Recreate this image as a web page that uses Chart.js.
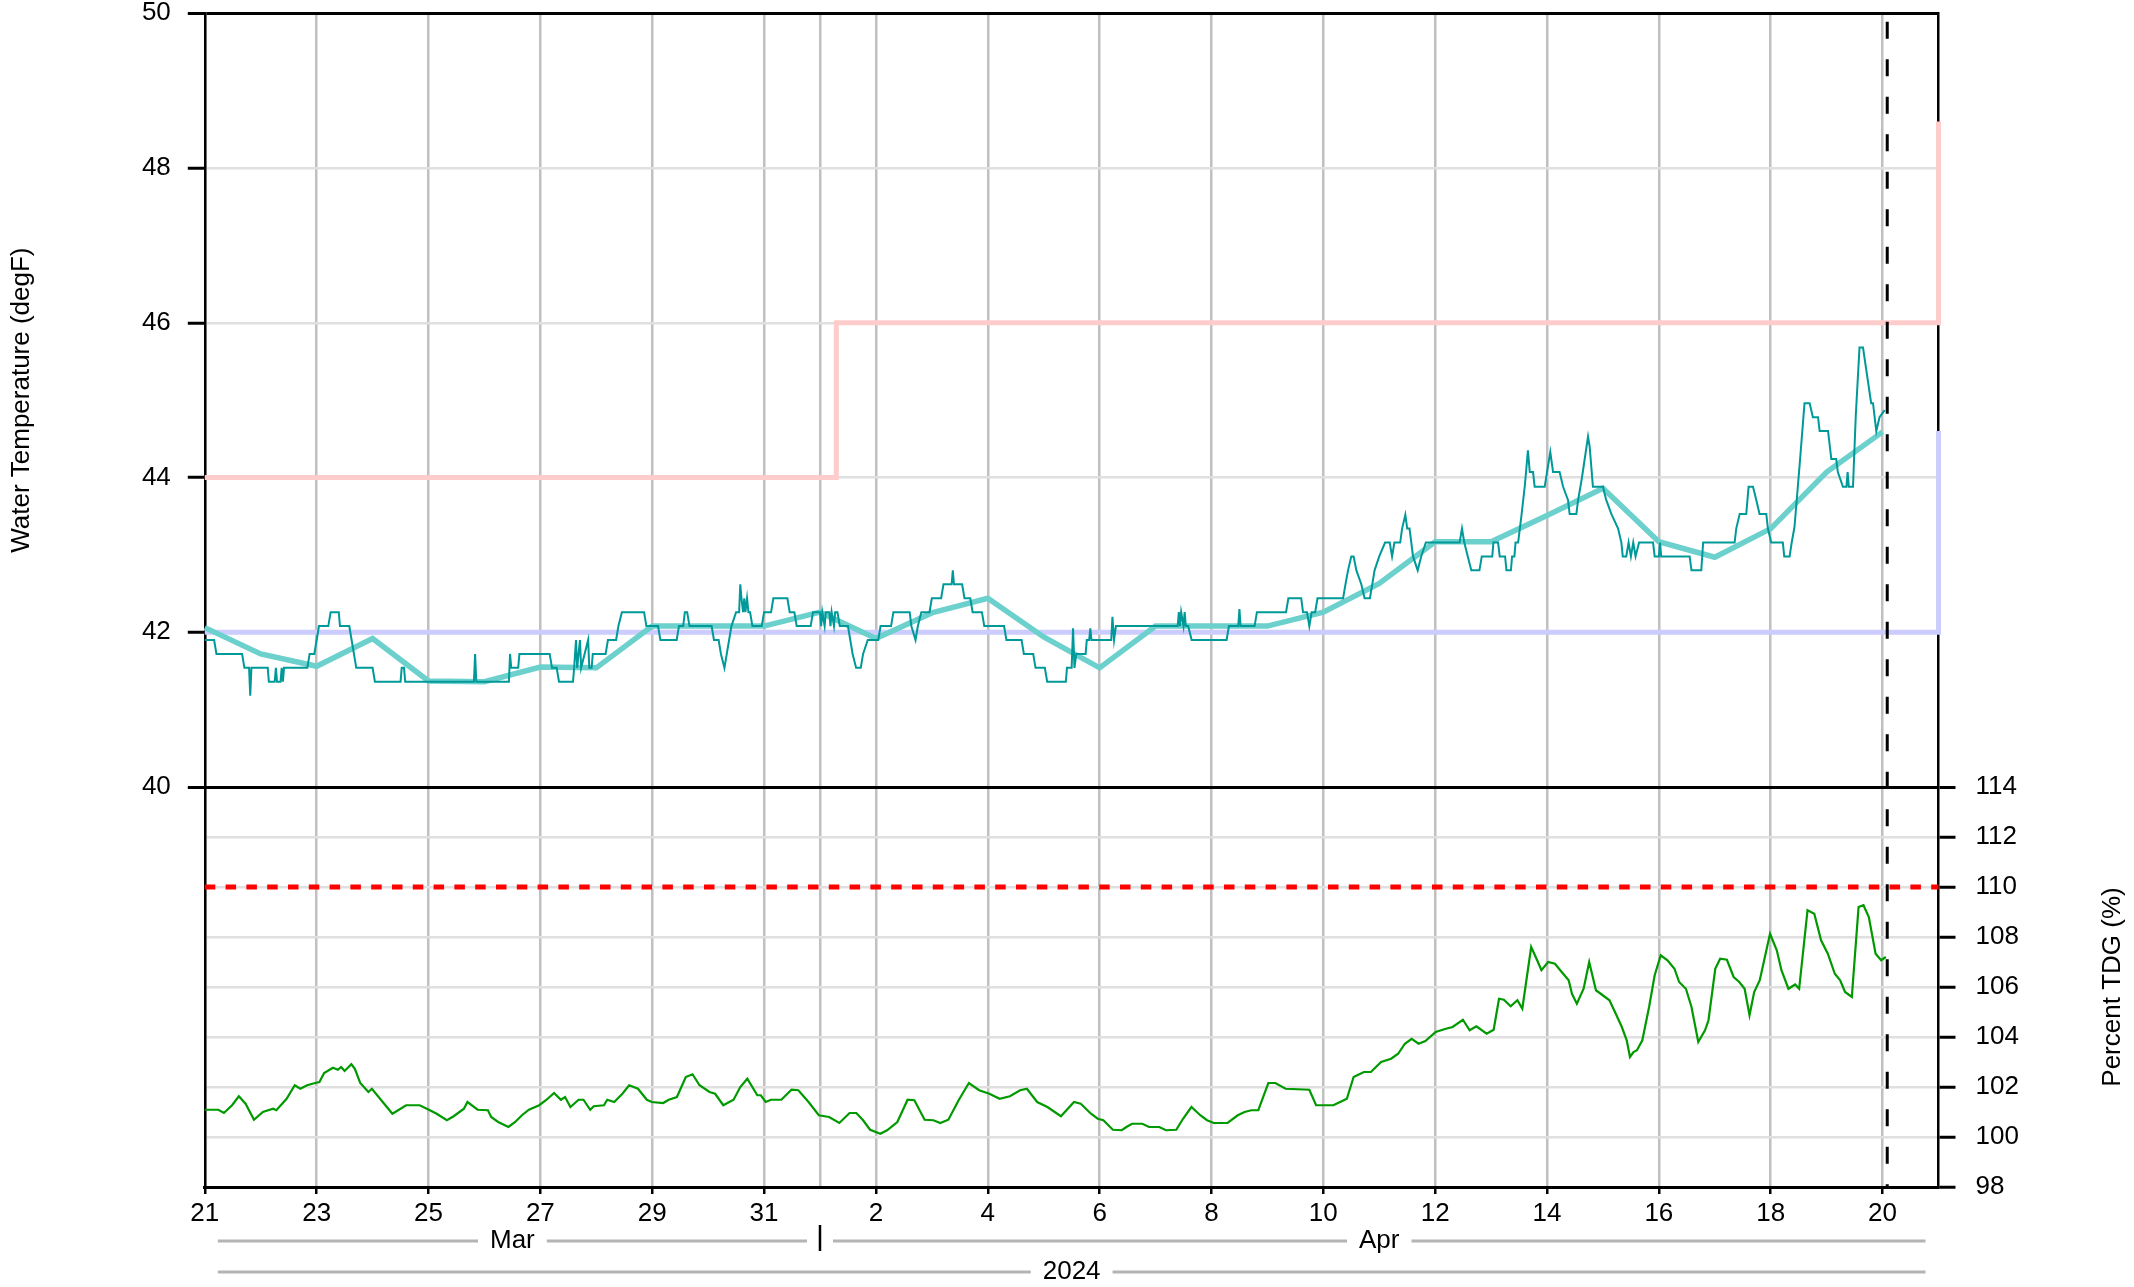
<!DOCTYPE html>
<html>
<head>
<meta charset="utf-8">
<title>Water Temperature and TDG</title>
<script src="https://cdn.jsdelivr.net/npm/chart.js@4.4.1/dist/chart.umd.min.js"></script>
<style>
    html, body { margin: 0; padding: 0; background: #ffffff; }
    #wrap { position: relative; width: 2134px; height: 1287px; }
</style>
</head>
<body>
<div id="wrap"><canvas id="riverChart" width="2134" height="1287"></canvas></div>
<script>
// ---- Values ----
// x values are hours since 2024-03-21 00:00

// Axis ticks and labels
const tempTicks = [40, 42, 44, 46, 48, 50];
const tdgTicks = [98, 100, 102, 104, 106, 108, 110, 112, 114];
const dayTicks = [0, 2, 4, 6, 8, 10, 12, 14, 16, 18, 20, 22, 24, 26, 28, 30];
const dayTickLabels = ['21', '23', '25', '27', '29', '31', '2', '4', '6', '8', '10', '12', '14', '16', '18', '20'];
const monthNames = ['Mar', 'Apr'];
const monthStartDays = [0, 11, 31];
const yearName = '2024';

// Criteria and reference lines
const upperCriteria = [[0, 44], [271, 44], [271, 46], [744, 46], [744, 48.6]];
const lowerCriteria = [[0, 42], [744, 42], [744, 44.6]];
const tdgLimit = 110;
const nowHour = 722;

// Daily average temperature, one value per midnight from Mar 21
const dailyAvgTemp = [42.06, 41.72, 41.56, 41.92, 41.37, 41.36, 41.55, 41.54, 42.08, 42.08,
    42.08, 42.26, 41.92, 42.25, 42.44, 41.94, 41.54, 42.08, 42.08, 42.08,
    42.26, 42.63, 43.17, 43.17, 43.51, 43.86, 43.17, 42.97, 43.34, 44.07, 44.59];

// Hourly water temperature (degF) [hour, value]
const hourlyTemp = [
    [0,41.9],[4,41.9],[5,41.72],[16,41.72],[17,41.54],[19,41.54],[19.5,41.18],[20,41.54],[27,41.54],[27.5,41.36],
    [30,41.36],[30.5,41.54],[31,41.36],[32.5,41.36],[33,41.54],[33.5,41.36],[34,41.54],[44,41.54],[45,41.72],[47,41.72],
    [48,41.9],[49,42.08],[53,42.08],[54,42.26],[57.5,42.26],[58,42.08],[62,42.08],[63,41.9],[64,41.72],[65,41.54],
    [72,41.54],[73,41.36],[84,41.36],[84.5,41.54],[85.5,41.54],[86,41.36],[115.5,41.36],[116,41.72],[116.5,41.36],[130.5,41.36],
    [131,41.72],[131.5,41.54],[134.5,41.54],[135,41.72],[148,41.72],[149,41.54],[151,41.54],[152,41.36],[158,41.36],[158.5,41.54],
    [159.3,41.9],[159.8,41.54],[161,41.9],[161.5,41.54],[164.5,41.9],[165,41.54],[166,41.54],[166.5,41.72],[172,41.72],[173,41.9],
    [176.5,41.9],[177.5,42.08],[179,42.26],[188.5,42.26],[189.5,42.08],[194.5,42.08],[195.5,41.9],[202.5,41.9],[203.5,42.08],[205.3,42.08],
    [206,42.26],[207,42.26],[208,42.08],[217.5,42.08],[218.5,41.9],[220.5,41.9],[221.5,41.72],[223,41.54],[224,41.72],[225,41.9],
    [226,42.08],[228,42.26],[229.3,42.26],[229.8,42.62],[230.3,42.44],[231,42.26],[231.5,42.44],[232,42.26],[232.7,42.44],[233.3,42.26],
    [234,42.26],[235,42.08],[239,42.08],[240,42.26],[243,42.26],[244,42.44],[250,42.44],[251,42.26],[253,42.26],[254,42.08],
    [260,42.08],[261,42.26],[264,42.26],[264.5,42.08],[265,42.26],[266,42.08],[266.5,42.26],[268,42.26],[268.5,42.08],[269,42.26],
    [270,42.08],[270.5,42.26],[271.5,42.26],[272.5,42.08],[276,42.08],[277,41.9],[278,41.72],[279.5,41.54],[281.5,41.54],[282.5,41.72],
    [284.5,41.9],[289,41.9],[290,42.08],[294.5,42.08],[295.5,42.26],[302.5,42.26],[303.2,42.08],[305,41.9],[306,42.08],[307.5,42.26],
    [311,42.26],[312,42.44],[316,42.44],[317,42.62],[320.5,42.62],[321,42.8],[321.5,42.62],[325,42.62],[326,42.44],[328.5,42.44],
    [329.5,42.26],[333.5,42.26],[334.5,42.08],[343,42.08],[344,41.9],[350.5,41.9],[351.5,41.72],[355.5,41.72],[356.5,41.54],[360.5,41.54],
    [361.5,41.36],[369.5,41.36],[370,41.54],[372,41.54],[372.6,42.05],[373.2,41.54],[374,41.72],[378,41.72],[378.5,41.9],[379.5,41.9],
    [380,42.05],[380.5,41.9],[389,41.9],[389.5,42.2],[390.2,41.9],[391,42.08],[417.5,42.08],[418,42.26],[418.5,42.08],[419,42.26],
    [420,42.08],[420.5,42.26],[421,42.08],[422,42.08],[423.5,41.9],[438.5,41.9],[439.5,42.08],[443.5,42.08],[444,42.3],[444.5,42.08],
    [450.5,42.08],[451.5,42.26],[464,42.26],[465,42.44],[470.5,42.44],[471.3,42.26],[473,42.26],[474,42.08],[475,42.26],[476.5,42.26],
    [477.5,42.44],[488.5,42.44],[489.5,42.62],[490.6,42.8],[492,42.98],[493,42.98],[494.2,42.8],[496.3,42.62],[497.7,42.44],[500,42.44],
    [501,42.62],[502,42.8],[504,42.98],[506.5,43.16],[508.5,43.16],[509.5,42.98],[510.5,43.16],[513,43.16],[513.8,43.34],[515.2,43.52],
    [516,43.34],[517,43.34],[518.5,42.98],[520.5,42.8],[522,42.98],[524,43.16],[538.5,43.16],[539.5,43.34],[540.5,43.16],[542,42.98],
    [543.5,42.8],[547,42.8],[548,42.98],[552.5,42.98],[553,43.16],[555,43.16],[555.7,42.98],[558,42.98],[558.6,42.8],[560.5,42.8],
    [561,42.98],[562,42.98],[562.5,43.16],[563.6,43.16],[565,43.5],[566.5,43.9],[567.8,44.35],[568.6,44.07],[570,44.07],[570.7,43.88],
    [575,43.88],[576,44.07],[577.4,44.33],[578.6,44.07],[581.4,44.07],[582.9,43.88],[585,43.71],[585.7,43.53],[588.6,43.53],[589.3,43.7],
    [591,44.0],[593.6,44.53],[594.3,44.4],[595.7,43.88],[600,43.88],[601.4,43.71],[603.6,43.53],[606.5,43.34],[607.9,43.16],[608.5,42.98],
    [610,42.98],[611,43.16],[612,42.98],[613,43.16],[614,42.98],[615.5,43.16],[621.5,43.16],[622.2,42.98],[624,42.98],[624.5,43.16],
    [625,42.98],[637.2,42.98],[638,42.8],[642.2,42.8],[643,43.16],[656.5,43.16],[657.2,43.34],[658.7,43.53],[661.5,43.53],[662.5,43.88],
    [664.4,43.88],[665.8,43.71],[667.2,43.53],[670.1,43.53],[670.8,43.34],[672.2,43.16],[677.2,43.16],[677.8,42.98],[680.1,42.98],[681,43.16],
    [682.2,43.36],[684.5,44.2],[686.5,44.96],[688.7,44.96],[690.1,44.78],[692.3,44.78],[693,44.6],[696.6,44.6],[697.3,44.42],[698,44.24],
    [700.1,44.24],[700.8,44.07],[703,43.88],[704.5,43.88],[705,44.07],[705.5,43.88],[707.3,43.88],[708.5,44.8],[710.1,45.68],[711.6,45.68],
    [715.1,44.96],[715.9,44.96],[717.3,44.6],[718.7,44.78],[720.9,44.87]
];

// Hourly total dissolved gas (%) [hour, value]
const hourlyTdg = [
    [0,101.09],[5.8,101.09],[8.2,100.96],[11.7,101.27],[14.6,101.63],[17.5,101.33],[21.1,100.69],[24.9,101.0],[29.3,101.13],[30.7,101.07],
    [35.1,101.53],[38.6,102.07],[41,101.93],[43.9,102.07],[47.4,102.16],[49.2,102.2],[51.2,102.56],[55,102.77],[57.1,102.69],[58.5,102.8],
    [60,102.64],[62.9,102.91],[64.4,102.73],[66.7,102.16],[70.2,101.8],[71.7,101.93],[74.6,101.6],[80.5,100.93],[86.4,101.27],[92.2,101.27],
    [96.6,101.07],[99.5,100.93],[103.9,100.67],[106.8,100.83],[111.2,101.13],[112.7,101.4],[117.1,101.09],[121.5,101.07],[122.9,100.8],[125.9,100.6],
    [130.3,100.4],[133.2,100.6],[136.1,100.87],[139.1,101.09],[143.5,101.27],[146.4,101.47],[149.9,101.76],[152.8,101.49],[154.6,101.6],[156.9,101.2],
    [160.4,101.49],[162.5,101.49],[165.4,101.09],[166.9,101.23],[171.3,101.27],[172.7,101.49],[175.7,101.4],[179.2,101.73],[182.1,102.07],[185.9,101.93],
    [189.7,101.49],[191.8,101.4],[196.7,101.36],[199.1,101.49],[202.6,101.6],[206.4,102.4],[209.3,102.51],[212.3,102.07],[216.6,101.8],[219,101.73],
    [222.5,101.27],[226.9,101.49],[229.8,102.0],[232.8,102.33],[237.1,101.67],[238.6,101.67],[240.7,101.4],[243,101.49],[247.4,101.49],[251.8,101.89],
    [254.7,101.87],[259.1,101.4],[263.5,100.87],[267.9,100.8],[272.3,100.56],[276.7,100.96],[279.6,100.96],[282.5,100.67],[285.5,100.29],[289.9,100.13],
    [292.8,100.27],[297.2,100.6],[301.6,101.49],[304.5,101.47],[308.9,100.69],[312.7,100.67],[315.6,100.56],[319.1,100.69],[323.5,101.47],[327.9,102.16],
    [332.3,101.87],[336.7,101.73],[341.1,101.53],[345.5,101.63],[349.9,101.87],[352.8,101.93],[357.2,101.4],[361.6,101.2],[367.4,100.83],[373,101.4],
    [375.9,101.33],[380.3,100.93],[383.2,100.73],[385.6,100.67],[389.7,100.29],[393.5,100.27],[395.5,100.4],[397.9,100.53],[402.3,100.53],[405.2,100.4],
    [409.6,100.4],[412.5,100.27],[416.9,100.29],[419.8,100.73],[423.4,101.2],[427.2,100.87],[430.1,100.67],[433,100.56],[438.9,100.56],[443.3,100.87],
    [446.2,101.0],[449.1,101.07],[452.1,101.07],[456.4,102.16],[459.4,102.16],[463.8,101.93],[474,101.89],[476.9,101.27],[484.3,101.27],[487.2,101.4],
    [490.1,101.53],[493,102.4],[497.4,102.6],[500.4,102.6],[504.8,103.0],[509.1,103.13],[512.1,103.33],[515,103.73],[517.9,103.93],[520.9,103.73],
    [523.8,103.84],[528.2,104.2],[532.6,104.33],[535.5,104.4],[539.9,104.69],[542.8,104.27],[545.7,104.43],[550.1,104.13],[553.1,104.29],[555.4,105.53],
    [557.5,105.49],[560.4,105.23],[563.3,105.47],[565.4,105.13],[569.2,107.6],[572.1,107.0],[573.6,106.67],[576.5,107.0],[579.4,106.93],[582.3,106.6],
    [585.3,106.27],[586.7,105.73],[588.8,105.33],[591.7,105.93],[594.1,107.0],[597,105.87],[599.9,105.67],[602.8,105.47],[605.8,104.87],[608.1,104.4],
    [610.2,103.87],[611.6,103.2],[613.1,103.4],[614.6,103.47],[616.9,103.87],[619.8,105.2],[622.2,106.47],[624.8,107.27],[627.7,107.07],[630.7,106.73],
    [632.7,106.2],[635.6,105.93],[638,105.2],[640.9,103.8],[643.8,104.27],[645.3,104.67],[648.2,106.73],[650.3,107.13],[653.2,107.09],[656.1,106.4],
    [658.5,106.2],[660.8,105.93],[662.9,104.87],[664.9,105.8],[667.3,106.27],[671.7,108.13],[674.6,107.47],[676.6,106.67],[679.6,105.93],[682.5,106.1],
    [684.2,105.93],[687.8,109.07],[690.7,108.93],[693.6,107.87],[696.5,107.33],[699.5,106.53],[701.8,106.27],[703.9,105.8],[706.8,105.6],[709.7,109.2],
    [711.8,109.27],[714.1,108.8],[717,107.33],[719.4,107.07],[721.4,107.2]
];

// ---- Layout (pixels) ----
const PLOT_LEFT = 204.8;
const PLOT_RIGHT = 1938.5;
const PLOT_TOP = 13.3;
const UPPER_PANEL = 773.7;   // temperature panel height
const LOWER_PANEL = 400;     // TDG panel height
const CANVAS_W = 2134;
const CANVAS_H = 1287;
const FONT = '"Liberation Sans", Arial, Helvetica, sans-serif';

// Both panels share one chart area, so each axis extends past its own panel
const tempMin = 40 - 10 * LOWER_PANEL / UPPER_PANEL;
const tdgMax = 114 + 16 * UPPER_PANEL / LOWER_PANEL;

function toPoints(pairs) {
    return pairs.map(p => ({ x: p[0], y: p[1] }));
}

function dayLabel(hours) {
    const i = dayTicks.indexOf(hours / 24);
    return i >= 0 ? dayTickLabels[i] : '';
}

// Draw rotated axis title centred on a point
function drawVerticalText(ctx, text, x, y) {
    ctx.save();
    ctx.translate(x, y);
    ctx.rotate(-Math.PI / 2);
    ctx.textAlign = 'center';
    ctx.textBaseline = 'middle';
    ctx.fillText(text, 0, 0);
    ctx.restore();
}

// Label with grey rule on both sides, like the month / year rows
function drawSpanLabel(ctx, text, x0, x1, y) {
    const mid = (x0 + x1) / 2;
    const half = ctx.measureText(text).width / 2;
    ctx.strokeStyle = '#b4b4b4';
    ctx.lineWidth = 3;
    ctx.beginPath();
    ctx.moveTo(x0 + 13, y);
    ctx.lineTo(mid - half - 12, y);
    ctx.moveTo(mid + half + 12, y);
    ctx.lineTo(x1 - 13, y);
    ctx.stroke();
    ctx.fillText(text, mid, y);
}

const decorPlugin = {
    id: 'decor',
    afterDraw(chart) {
        const ctx = chart.ctx;
        const x = chart.scales.x;
        const yT = chart.scales.y;
        const yG = chart.scales.y2;
        const area = chart.chartArea;
        ctx.save();
        ctx.font = '26px ' + FONT;
        ctx.fillStyle = '#000';

        // axis titles
        drawVerticalText(ctx, 'Water Temperature (degF)', 22, (area.top + yT.getPixelForValue(40)) / 2);
        drawVerticalText(ctx, 'Percent TDG (%)', 2113, (yG.getPixelForValue(114) + area.bottom) / 2);

        // month row
        ctx.textAlign = 'center';
        ctx.textBaseline = 'middle';
        for (let i = 0; i < monthNames.length; i++) {
            const a = x.getPixelForValue(monthStartDays[i] * 24);
            const b = x.getPixelForValue(monthStartDays[i + 1] * 24);
            drawSpanLabel(ctx, monthNames[i], a, b, 1241);
        }
        // month separators
        ctx.strokeStyle = '#000';
        ctx.lineWidth = 2.5;
        for (let i = 1; i < monthNames.length; i++) {
            const px = x.getPixelForValue(monthStartDays[i] * 24);
            ctx.beginPath();
            ctx.moveTo(px, 1225);
            ctx.lineTo(px, 1251);
            ctx.stroke();
        }

        // year row
        drawSpanLabel(ctx, yearName, x.getPixelForValue(0), x.getPixelForValue(744), 1272);
        ctx.restore();
    }
};

function initializeRiverChart() {
    const canvas = document.getElementById('riverChart');
    if (!canvas) return;

    Chart.defaults.font.family = FONT;
    Chart.defaults.font.size = 26;
    Chart.defaults.color = '#000';

    const gridHours = dayTicks.concat([monthStartDays[1]]).sort((a, b) => a - b).map(d => d * 24);

    new Chart(canvas, {
        type: 'line',
        data: {
            datasets: [
                {
                    label: 'Now',
                    data: [{ x: nowHour, y: 50 }, { x: nowHour, y: tempMin }],
                    yAxisID: 'y',
                    borderColor: '#000',
                    borderWidth: 3,
                    borderDash: [17, 20.5],
                    borderDashOffset: 29,
                    order: 0
                },
                {
                    label: 'Water Temperature',
                    data: toPoints(hourlyTemp),
                    yAxisID: 'y',
                    borderColor: '#009999',
                    borderWidth: 2,
                    order: 1
                },
                {
                    label: 'Percent TDG',
                    data: toPoints(hourlyTdg),
                    yAxisID: 'y2',
                    borderColor: '#009900',
                    borderWidth: 2.2,
                    order: 1
                },
                {
                    label: 'Daily Average',
                    data: dailyAvgTemp.map((v, i) => ({ x: i * 24, y: v })),
                    yAxisID: 'y',
                    borderColor: '#6cd0cc',
                    borderWidth: 5.5,
                    order: 2
                },
                {
                    label: 'Lower Criteria',
                    data: toPoints(lowerCriteria),
                    yAxisID: 'y',
                    borderColor: '#ccccff',
                    borderWidth: 5,
                    order: 3
                },
                {
                    label: 'Upper Criteria',
                    data: toPoints(upperCriteria),
                    yAxisID: 'y',
                    borderColor: '#ffcccc',
                    borderWidth: 5,
                    order: 4
                },
                {
                    label: 'TDG Limit',
                    data: [{ x: 0, y: tdgLimit }, { x: 744, y: tdgLimit }],
                    yAxisID: 'y2',
                    borderColor: '#ff0000',
                    borderWidth: 5,
                    borderDash: [10.5, 10.3],
                    order: 5
                }
            ]
        },
        options: {
            responsive: false,
            animation: false,
            devicePixelRatio: 1,
            parsing: false,
            normalized: true,
            clip: false,
            elements: {
                point: { radius: 0 },
                line: { tension: 0, fill: false, borderCapStyle: 'butt', borderJoinStyle: 'miter' }
            },
            layout: { padding: { top: PLOT_TOP, left: 0, right: 0, bottom: 0 } },
            plugins: {
                legend: { display: false },
                tooltip: { enabled: false }
            },
            scales: {
                x: {
                    type: 'linear',
                    min: 0,
                    max: 744,
                    afterBuildTicks: s => { s.ticks = gridHours.map(v => ({ value: v })); },
                    afterFit: s => {
                        s.height = CANVAS_H - PLOT_TOP - UPPER_PANEL - LOWER_PANEL;
                        s.paddingLeft = 0;
                        s.paddingRight = 0;
                    },
                    ticks: {
                        autoSkip: false,
                        maxRotation: 0,
                        padding: 4,
                        callback: v => dayLabel(v)
                    },
                    grid: {
                        color: '#c0c0c0',
                        lineWidth: 2.5,
                        tickLength: 7,
                        tickWidth: 2.5,
                        tickColor: ctx => (ctx.tick && dayLabel(ctx.tick.value) === '') ? 'rgba(0,0,0,0)' : '#000'
                    },
                    border: { display: true, color: '#000', width: 3 }
                },
                y: {
                    type: 'linear',
                    position: 'left',
                    min: tempMin,
                    max: 50,
                    afterBuildTicks: s => { s.ticks = tempTicks.map(v => ({ value: v })); },
                    afterFit: s => {
                        s.width = PLOT_LEFT;
                        s.paddingTop = 0;
                        s.paddingBottom = 0;
                    },
                    ticks: { padding: 17, callback: v => String(v) },
                    grid: {
                        color: ctx => (ctx.tick && (ctx.tick.value === 40 || ctx.tick.value === 50)) ? '#000' : '#e0e0e0',
                        lineWidth: ctx => (ctx.tick && (ctx.tick.value === 40 || ctx.tick.value === 50)) ? 3 : 2.5,
                        tickLength: 17,
                        tickWidth: 3,
                        tickColor: '#000'
                    },
                    border: { display: true, color: '#000', width: 2.5 }
                },
                y2: {
                    type: 'linear',
                    position: 'right',
                    min: 98,
                    max: tdgMax,
                    afterBuildTicks: s => { s.ticks = tdgTicks.map(v => ({ value: v })); },
                    afterFit: s => {
                        s.width = CANVAS_W - PLOT_RIGHT;
                        s.paddingTop = 0;
                        s.paddingBottom = 0;
                    },
                    ticks: { padding: 20, callback: v => String(v) },
                    grid: {
                        color: ctx => {
                            if (!ctx.tick) return '#e0e0e0';
                            if (ctx.tick.value === 114) return '#000';
                            if (ctx.tick.value === 98) return 'rgba(0,0,0,0)';
                            return '#e0e0e0';
                        },
                        lineWidth: ctx => (ctx.tick && ctx.tick.value === 114) ? 3 : 2.5,
                        tickLength: 17,
                        tickWidth: 3,
                        tickColor: '#000'
                    },
                    border: { display: true, color: '#000', width: 2.5 }
                }
            }
        },
        plugins: [decorPlugin]
    });
}

initializeRiverChart();
</script>
</body>
</html>
